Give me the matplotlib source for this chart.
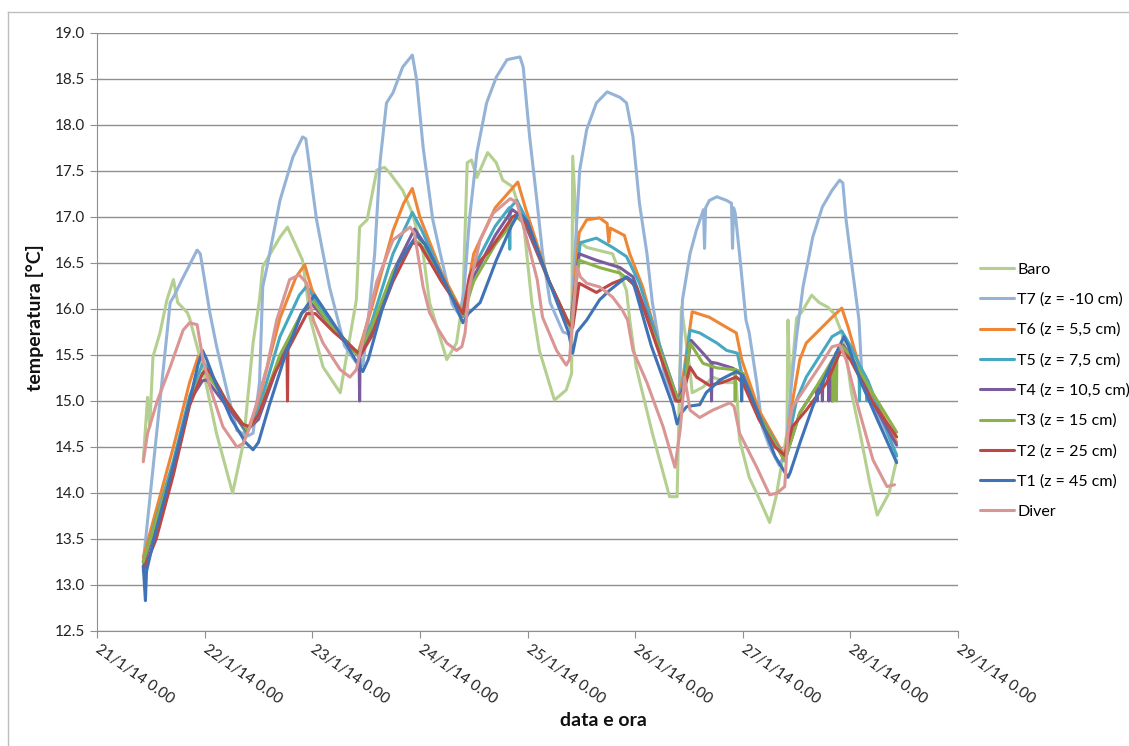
import matplotlib
matplotlib.use('Agg')
import numpy as np
import matplotlib.pyplot as plt
import matplotlib.transforms as mtransforms
from matplotlib.lines import Line2D

plt.rcParams['font.family'] = ['Lato', 'DejaVu Sans']

# x = days since 21/1/14 0.00
day_ticks = [0, 1, 2, 3, 4, 5, 6, 7, 8]
day_labels = ['21/1/14 0.00', '22/1/14 0.00', '23/1/14 0.00', '24/1/14 0.00', '25/1/14 0.00',
              '26/1/14 0.00', '27/1/14 0.00', '28/1/14 0.00', '29/1/14 0.00']

baro_t = [0.43, 0.47, 0.49, 0.52, 0.585, 0.65, 0.71, 0.75, 0.84, 0.86, 0.98, 1.11, 1.26, 1.36, 1.45, 1.51, 1.54, 1.70, 1.77, 1.91,
          1.98, 2.10, 2.26, 2.41, 2.44, 2.51, 2.60, 2.67, 2.72, 2.77, 2.84, 2.93, 3.03, 3.09, 3.25, 3.34, 3.40, 3.44, 3.48, 3.53,
          3.63, 3.71, 3.77, 3.86, 3.96, 4.04, 4.11, 4.25, 4.36, 4.41, 4.42, 4.46, 4.55, 4.79, 4.92, 4.95, 5.01, 5.16, 5.26, 5.32,
          5.39, 5.41, 5.43, 5.51, 5.53, 5.63, 5.72, 5.85, 5.94, 5.97, 6.06, 6.16, 6.25, 6.31, 6.41, 6.42, 6.44, 6.50, 6.55, 6.64,
          6.71, 6.79, 6.85, 6.92, 6.96, 7.01, 7.09, 7.18, 7.25, 7.36, 7.43]
baro_v = [14.36, 15.04, 14.72, 15.48, 15.74, 16.10, 16.32, 16.07, 15.96, 15.90, 15.37, 14.65, 14.00, 14.54, 15.63, 16.10, 16.46, 16.78, 16.89, 16.53,
          15.90, 15.37, 15.09, 16.10, 16.89, 16.97, 17.51, 17.54, 17.48, 17.40, 17.29, 17.04, 16.61, 16.07, 15.45, 15.63, 16.10, 17.59, 17.62, 17.43,
          17.70, 17.59, 17.40, 17.33, 16.97, 16.07, 15.55, 15.01, 15.12, 15.30, 17.66, 16.75, 16.67, 16.60, 16.20, 15.88, 15.37, 14.65, 14.22, 13.96,
          13.96, 15.01, 16.02, 15.34, 15.09, 15.15, 15.26, 15.20, 15.20, 14.58, 14.17, 13.92, 13.68, 13.96, 14.65, 15.88, 15.10, 15.90, 15.97, 16.15,
          16.07, 16.02, 15.95, 15.74, 15.52, 15.09, 14.65, 14.11, 13.76, 14.00, 14.36]

t7_t = [0.43, 0.68, 0.72, 0.79, 0.93, 0.96, 1.05, 1.11, 1.21, 1.30, 1.40, 1.45, 1.51, 1.54, 1.58, 1.70, 1.82, 1.91, 1.94, 2.04,
        2.16, 2.30, 2.42, 2.47, 2.52, 2.58, 2.63, 2.69, 2.75, 2.84, 2.93, 2.97, 3.03, 3.12, 3.19, 3.30, 3.37, 3.41, 3.46, 3.53,
        3.62, 3.71, 3.81, 3.93, 3.96, 4.02, 4.09, 4.14, 4.21, 4.33, 4.40, 4.44, 4.485, 4.55, 4.64, 4.74, 4.86, 4.92, 4.98, 5.04,
        5.11, 5.16, 5.27, 5.37, 5.41, 5.44, 5.46, 5.51, 5.57, 5.635, 5.645, 5.655, 5.69, 5.76, 5.85, 5.895, 5.905, 5.915, 5.93, 5.97,
        6.03, 6.06, 6.13, 6.18, 6.25, 6.34, 6.40, 6.45, 6.50, 6.56, 6.65, 6.74, 6.83, 6.90, 6.93, 6.96, 7.02, 7.08, 7.11, 7.18,
        7.30, 7.43]
t7_v = [13.25, 16.07, 16.15, 16.32, 16.64, 16.60, 15.95, 15.60, 15.10, 14.68, 14.62, 14.65, 15.20, 16.24, 16.46, 17.18, 17.65, 17.87, 17.85, 16.97,
        16.24, 15.60, 15.40, 15.38, 15.88, 16.60, 17.60, 18.24, 18.35, 18.63, 18.76, 18.49, 17.76, 16.97, 16.60, 16.05, 15.93, 16.20, 16.97, 17.70,
        18.24, 18.52, 18.71, 18.74, 18.63, 17.87, 17.15, 16.60, 16.07, 15.75, 15.72, 16.60, 17.51, 17.95, 18.24, 18.36, 18.30, 18.24, 17.87, 17.15,
        16.60, 16.07, 15.30, 15.00, 15.05, 16.10, 16.24, 16.60, 16.86, 17.08, 16.66, 17.10, 17.18, 17.22, 17.18, 17.15, 16.66, 17.10, 17.04, 16.60,
        15.88, 15.74, 15.20, 14.72, 14.50, 14.30, 14.45, 15.15, 15.70, 16.24, 16.78, 17.11, 17.29, 17.40, 17.37, 16.97, 16.42, 15.88, 15.20, 15.01,
        14.75, 14.42]

t6_t = [0.43, 0.71, 0.86, 0.94, 0.98, 1.05, 1.20, 1.39, 1.50, 1.70, 1.85, 1.93, 2.00, 2.20, 2.42, 2.55, 2.75, 2.85, 2.93, 3.00,
        3.20, 3.40, 3.50, 3.70, 3.85, 3.91, 3.98, 4.20, 4.40, 4.48, 4.55, 4.67, 4.74, 4.755, 4.77, 4.90, 4.95, 5.07, 5.20, 5.40,
        5.45, 5.53, 5.69, 5.85, 5.94, 5.99, 6.15, 6.39, 6.46, 6.53, 6.59, 6.71, 6.83, 6.92, 6.98, 7.10, 7.43]
t6_v = [13.30, 14.50, 15.20, 15.48, 15.45, 15.30, 15.00, 14.65, 15.00, 15.90, 16.35, 16.48, 16.20, 15.80, 15.50, 16.00, 16.85, 17.15, 17.31, 17.00,
        16.40, 15.95, 16.60, 17.10, 17.30, 17.38, 17.10, 16.30, 15.80, 16.83, 16.97, 16.99, 16.93, 16.73, 16.88, 16.80, 16.60, 16.24, 15.70, 15.00,
        15.30, 15.97, 15.91, 15.80, 15.74, 15.45, 14.90, 14.40, 14.98, 15.45, 15.63, 15.77, 15.91, 16.01, 15.80, 15.30, 14.55]

t5_t = [0.43, 0.71, 0.86, 0.98, 1.02, 1.20, 1.39, 1.50, 1.70, 1.88, 1.95, 2.05, 2.20, 2.42, 2.55, 2.75, 2.93, 3.02, 3.25, 3.40,
        3.50, 3.70, 3.83, 3.835, 3.84, 3.90, 3.98, 4.20, 4.40, 4.49, 4.64, 4.79, 4.92, 5.04, 5.20, 5.40, 5.45, 5.51, 5.60, 5.76,
        5.85, 5.95, 5.99, 6.15, 6.39, 6.50, 6.59, 6.71, 6.83, 6.92, 7.00, 7.08, 7.085, 7.09, 7.15, 7.155, 7.16, 7.43]
t5_v = [13.25, 14.35, 15.05, 15.40, 15.38, 15.00, 14.65, 14.90, 15.70, 16.15, 16.25, 16.05, 15.80, 15.50, 15.85, 16.60, 17.05, 16.85, 16.25, 15.93,
        16.45, 16.90, 17.10, 16.65, 17.10, 17.18, 17.00, 16.30, 15.80, 16.72, 16.77, 16.67, 16.57, 16.28, 15.70, 15.00, 15.20, 15.77, 15.74, 15.63,
        15.55, 15.52, 15.30, 14.85, 14.38, 15.01, 15.26, 15.48, 15.70, 15.76, 15.60, 15.40, 15.00, 15.38, 15.25, 15.00, 15.23, 14.40]

t4_t = [0.43, 0.71, 0.86, 0.98, 1.02, 1.20, 1.39, 1.50, 1.70, 1.90, 2.00, 2.15, 2.40, 2.435, 2.44, 2.445, 2.55, 2.75, 2.95, 3.05,
        3.25, 3.40, 3.50, 3.70, 3.86, 3.95, 4.20, 4.40, 4.48, 4.64, 4.86, 4.98, 5.20, 5.40, 5.45, 5.52, 5.63, 5.705, 5.71, 5.715,
        5.76, 5.90, 6.00, 6.15, 6.39, 6.53, 6.65, 6.685, 6.69, 6.695, 6.735, 6.74, 6.745, 6.795, 6.80, 6.805, 6.825, 6.83, 6.835, 6.93,
        7.00, 7.20, 7.43]
t4_v = [13.20, 14.30, 15.00, 15.22, 15.23, 14.95, 14.68, 14.80, 15.45, 15.95, 16.05, 15.85, 15.55, 15.52, 15.00, 15.52, 15.75, 16.40, 16.87, 16.70,
        16.25, 15.92, 16.35, 16.80, 17.08, 17.00, 16.30, 15.80, 16.60, 16.53, 16.45, 16.35, 15.65, 15.00, 15.15, 15.66, 15.52, 15.42, 15.00, 15.42,
        15.41, 15.36, 15.30, 14.85, 14.35, 14.87, 15.09, 15.15, 15.00, 15.16, 15.22, 15.00, 15.23, 15.36, 15.00, 15.37, 15.42, 15.00, 15.43, 15.61,
        15.50, 15.00, 14.52]

t3_t = [0.43, 0.71, 0.86, 0.98, 1.02, 1.20, 1.40, 1.50, 1.70, 1.90, 2.00, 2.15, 2.42, 2.55, 2.75, 2.95, 3.05, 3.25, 3.40, 3.50,
        3.70, 3.90, 4.00, 4.20, 4.40, 4.48, 4.67, 4.86, 4.98, 5.20, 5.40, 5.45, 5.51, 5.63, 5.76, 5.925, 5.93, 5.935, 6.00, 6.15,
        6.39, 6.53, 6.65, 6.78, 6.835, 6.84, 6.845, 6.865, 6.87, 6.875, 6.92, 7.00, 7.20, 7.43]
t3_v = [13.25, 14.30, 15.00, 15.30, 15.30, 15.00, 14.68, 14.85, 15.50, 15.95, 16.10, 15.85, 15.50, 15.80, 16.40, 16.75, 16.65, 16.25, 15.93, 16.30,
        16.70, 17.00, 16.90, 16.30, 15.80, 16.53, 16.45, 16.39, 16.28, 15.65, 15.00, 15.10, 15.63, 15.41, 15.36, 15.34, 15.00, 15.34, 15.30, 14.85,
        14.35, 14.87, 15.09, 15.34, 15.45, 15.00, 15.46, 15.52, 15.00, 15.53, 15.60, 15.50, 15.10, 14.66]

t2_t = [0.43, 0.55, 0.71, 0.86, 0.98, 1.02, 1.06, 1.20, 1.35, 1.42, 1.50, 1.65, 1.765, 1.77, 1.775, 1.95, 2.03, 2.20, 2.40, 2.45,
        2.55, 2.75, 2.93, 3.00, 3.20, 3.40, 3.46, 3.49, 3.65, 3.86, 3.92, 4.00, 4.20, 4.38, 4.42, 4.48, 4.64, 4.79, 4.92, 5.01,
        5.20, 5.38, 5.43, 5.51, 5.57, 5.69, 5.81, 5.94, 6.00, 6.15, 6.30, 6.39, 6.46, 6.59, 6.78, 6.90, 6.92, 7.00, 7.20, 7.43]
t2_v = [13.15, 13.50, 14.20, 14.95, 15.30, 15.35, 15.30, 15.00, 14.75, 14.72, 14.85, 15.30, 15.55, 15.00, 15.56, 15.95, 15.95, 15.75, 15.55, 15.50,
        15.70, 16.30, 16.72, 16.70, 16.30, 15.95, 16.35, 16.43, 16.64, 17.00, 17.04, 16.90, 16.30, 15.85, 15.80, 16.28, 16.18, 16.28, 16.34, 16.24,
        15.60, 15.00, 15.00, 15.37, 15.26, 15.17, 15.20, 15.26, 15.20, 14.80, 14.50, 14.41, 14.72, 14.90, 15.20, 15.52, 15.55, 15.45, 15.00, 14.61]

t1_t = [0.43, 0.45, 0.46, 0.55, 0.71, 0.86, 0.94, 0.98, 1.02, 1.10, 1.25, 1.38, 1.45, 1.50, 1.60, 1.75, 1.90, 2.02, 2.08, 2.25,
        2.40, 2.47, 2.52, 2.65, 2.80, 2.97, 3.05, 3.25, 3.40, 3.45, 3.56, 3.71, 3.85, 3.92, 4.00, 4.20, 4.38, 4.42, 4.46, 4.55,
        4.67, 4.76, 4.92, 4.98, 5.15, 5.35, 5.39, 5.43, 5.48, 5.60, 5.66, 5.79, 5.94, 5.985, 5.99, 5.995, 6.00, 6.15, 6.30, 6.42,
        6.44, 6.53, 6.65, 6.78, 6.94, 6.98, 7.10, 7.25, 7.43]
t1_v = [13.20, 12.83, 13.15, 13.60, 14.30, 15.00, 15.40, 15.55, 15.45, 15.20, 14.80, 14.55, 14.47, 14.55, 14.95, 15.50, 15.95, 16.15, 16.05, 15.75,
        15.45, 15.32, 15.45, 16.00, 16.50, 16.80, 16.70, 16.25, 15.85, 15.95, 16.07, 16.53, 16.90, 17.05, 16.95, 16.30, 15.75, 15.52, 15.75, 15.88,
        16.10, 16.20, 16.35, 16.30, 15.60, 14.95, 14.75, 14.87, 14.94, 14.96, 15.09, 15.23, 15.32, 15.29, 15.00, 15.28, 15.28, 14.85, 14.40, 14.17,
        14.22, 14.54, 14.94, 15.30, 15.70, 15.60, 15.20, 14.80, 14.33]

diver_t = [0.43, 0.47, 0.56, 0.68, 0.80, 0.86, 0.93, 0.98, 1.05, 1.17, 1.30, 1.36, 1.42, 1.58, 1.67, 1.79, 1.88, 1.95, 2.01, 2.10,
           2.26, 2.35, 2.41, 2.47, 2.60, 2.75, 2.91, 2.95, 3.03, 3.09, 3.16, 3.25, 3.34, 3.39, 3.42, 3.46, 3.56, 3.68, 3.84, 3.90,
           3.99, 4.09, 4.14, 4.27, 4.36, 4.39, 4.46, 4.49, 4.55, 4.67, 4.79, 4.88, 4.93, 4.98, 5.11, 5.26, 5.37, 5.42, 5.46, 5.51,
           5.60, 5.72, 5.88, 5.92, 5.97, 6.13, 6.25, 6.32, 6.39, 6.42, 6.46, 6.55, 6.71, 6.83, 6.90, 6.96, 7.08, 7.21, 7.34, 7.41]
diver_v = [14.34, 14.65, 15.00, 15.37, 15.77, 15.85, 15.83, 15.48, 15.15, 14.72, 14.50, 14.54, 14.72, 15.37, 15.88, 16.32, 16.37, 16.28, 15.88, 15.63,
           15.34, 15.26, 15.34, 15.66, 16.30, 16.75, 16.89, 16.82, 16.24, 15.96, 15.80, 15.63, 15.55, 15.59, 15.74, 16.24, 16.75, 17.04, 17.20, 17.16,
           16.78, 16.32, 15.91, 15.55, 15.39, 15.45, 16.46, 16.35, 16.28, 16.24, 16.13, 15.99, 15.88, 15.55, 15.20, 14.72, 14.28, 14.70, 15.26, 14.90,
           14.82, 14.90, 14.98, 14.94, 14.65, 14.28, 13.98, 14.00, 14.07, 14.65, 14.93, 15.09, 15.37, 15.59, 15.61, 15.45, 14.90, 14.36, 14.07, 14.09]

names = ['Baro', 'T7 (z = -10 cm)', 'T6 (z = 5,5 cm)', 'T5 (z = 7,5 cm)', 'T4 (z = 10,5 cm)',
         'T3 (z = 15 cm)', 'T2 (z = 25 cm)', 'T1 (z = 45 cm)', 'Diver']
colors = ['#B4CF90', '#95B3D7', '#EE8636', '#47A8C2', '#7A5C9C', '#8AB248', '#BC4744', '#3F73B6', '#D99694']
series = [(baro_t, baro_v), (t7_t, t7_v), (t6_t, t6_v), (t5_t, t5_v), (t4_t, t4_v),
          (t3_t, t3_v), (t2_t, t2_v), (t1_t, t1_v), (diver_t, diver_v)]

fig = plt.figure(figsize=(11.29, 7.46), dpi=100)
ax = fig.add_axes([97 / 1129, 1 - 631 / 746, 861 / 1129, 598 / 746])

for (t, v), c, n in zip(series, colors, names):
    ax.plot(t, v, color=c, lw=2.2, label=n, solid_joinstyle='round', solid_capstyle='round')

ax.set_xlim(0, 8)
ax.set_ylim(12.5, 19.0)
yt = np.arange(12.5, 19.01, 0.5)
ax.set_yticks(yt)
ax.set_yticklabels(['%.1f' % y for y in yt])
ax.set_xticks(day_ticks)
ax.set_xticklabels([])

# slanted date labels, anchored just right of / below each tick
lab_tr = mtransforms.blended_transform_factory(ax.transData, ax.transAxes) + \
    mtransforms.ScaledTranslation(4 / 100, -11 / 100, fig.dpi_scale_trans)
for d, lab in zip(day_ticks, day_labels):
    ax.text(d, 0, lab, transform=lab_tr, rotation=-35, rotation_mode='anchor',
            ha='left', va='top', fontsize=11, color='#222222', clip_on=False)

ax.grid(axis='y', color='#8f8f8f', lw=1.0)
ax.set_axisbelow(True)
for s in ['top', 'right']:
    ax.spines[s].set_visible(False)
for s in ['left', 'bottom']:
    ax.spines[s].set_color('#8f8f8f')
ax.tick_params(axis='both', colors='#8f8f8f', labelcolor='#222222', labelsize=11, length=5, direction='out')

fig.text(35 / 1129, 1 - 318 / 746, 'temperatura [°C]', rotation=90, weight='bold', fontsize=14,
         ha='center', va='center', color='#111111')
fig.text(603 / 1129, 1 - 720 / 746, 'data e ora', weight='bold', fontsize=14,
         ha='center', va='center', color='#111111')

# outer chart frame
fig.add_artist(Line2D([8 / 1129, 8 / 1129], [0, 1 - 12 / 746], color='#bdbdbd', lw=1, transform=fig.transFigure))
fig.add_artist(Line2D([8 / 1129, 1], [1 - 12 / 746, 1 - 12 / 746], color='#bdbdbd', lw=1, transform=fig.transFigure))

handles, labels = ax.get_legend_handles_labels()
fig.legend(handles, labels, loc='upper left', bbox_to_anchor=(974 / 1129, 1 - 256 / 746),
           frameon=False, fontsize=11.5, handlelength=2.1, handletextpad=0.2, labelspacing=1.0,
           borderaxespad=0)

fig.savefig('out.png', dpi=100)
